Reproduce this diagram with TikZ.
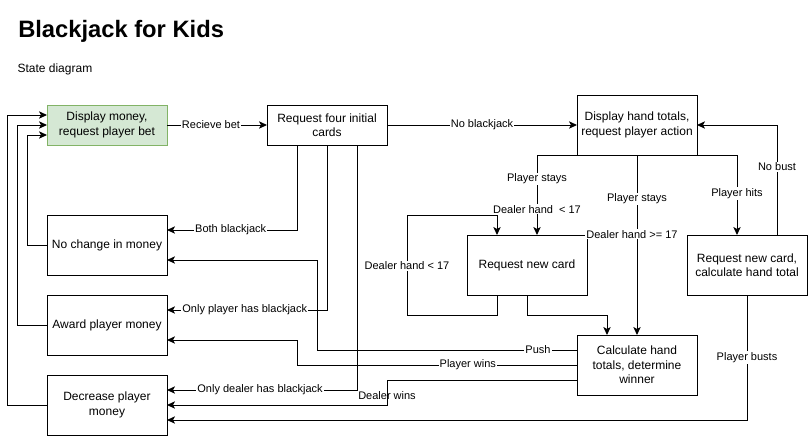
\documentclass[tikz,border=0pt]{standalone}
\usepackage{fontspec}
\setmainfont{Liberation Sans}
\usetikzlibrary{arrows.meta}
\usetikzlibrary{positioning}
\definecolor{betfill}{HTML}{D5E8D4}
\definecolor{betdraw}{HTML}{82B366}
\tikzstyle{block} = [rectangle, draw, line width=0.75pt, outer sep=0pt, inner sep=2pt, minimum width=90pt, minimum height=30pt, align=center, font=\fontsize{9}{10.8}\selectfont]
\tikzstyle{tall} = [block, minimum height=45pt]
\tikzstyle{lbl} = [fill=white, inner sep=0.75pt, font=\fontsize{8.25}{9.5}\selectfont]
\tikzstyle{line} = [draw, line width=0.75pt, -{Stealth[length=6pt,width=5.5pt,inset=1.5pt]}]

\begin{document}
\begin{tikzpicture}[x=0.75pt, y=-0.75pt]
   \useasboundingbox (0,0) rectangle (808,436);
   % Title
   \node [anchor=base west, inner sep=0pt, font=\bfseries\fontsize{17.8}{21}\selectfont] (title) at (18,37.7) {Blackjack for Kids};
   \node [anchor=base west, inner sep=0pt, font=\fontsize{9}{11}\selectfont] (subtitle) at (17.3,72.7) {State diagram};

   % Place nodes
   \node [block, fill=betfill, draw=betdraw] (money) at (107,125) {Display money,\\request player bet};
   \node [block, right = 75pt of money] (four) {Request four initial\\cards};
   \node [tall, right = 142.5pt of four] (hand) {Display hand totals,\\request player action};
   \node [tall, below = 52.5pt of money] (nochange) {No change in money};
   \node [tall, below = 15pt of nochange] (award) {Award player money};
   \node [tall, below = 15pt of award] (decrease) {Decrease player\\money};
   \node [tall, below left = 60pt and -7.5pt of hand] (newcard) {Request new card};
   \node [tall, below right = 60pt and -7.5pt of hand] (hitcard) {Request new card,\\calculate hand total};
   \node [tall, below = 135pt of hand] (calc) {Calculate hand\\totals, determine\\winner};

   % Opening of the round
   \draw[line] (money) -- node [lbl, pos=0.44] {Recieve bet} (four);
   \draw[line] (four) -- node [lbl] {No blackjack} (hand);
   \draw[line] (four.south -| 297,0) |- node [lbl, pos=0.755] {Both blackjack} (nochange.east |- 0,230);
   \draw[line] (four.south) |- node [lbl, pos=0.757] {Only player has blackjack} (award.east |- 0,310);
   \draw[line] (four.south -| 357,0) |- node [lbl, pos=0.755] {Only dealer has blackjack} (decrease.east |- 0,390);

   % Back to the bet
   \draw[line] (nochange.west) -- ++(-20,0) |- (money.west |- 0,135);
   \draw[line] (award.west) -- ++(-30,0) |- (money.west);
   \draw[line] (decrease.west) -- ++(-40,0) |- (money.west |- 0,115);

   % Player action
   \draw[line] (hand.south) -| node [lbl, pos=0.65] {Player stays} node [lbl, pos=0.84] {Dealer hand~ < 17} (newcard.north -| 537,0);
   \draw[line] (hand.south) -- node [lbl, pos=0.244] {Player stays} node [lbl, pos=0.44, xshift=-3.75pt] {Dealer hand >= 17} (calc.north);
   \draw[line] (hand.south) -| node [lbl, pos=0.74] {Player hits} (hitcard.north -| 737,0);
   \draw[line] (hitcard.north -| 777,0) |- node [lbl, pos=0.31] {No bust} (hand.east);
   \draw[line] (hitcard.south) |- node [lbl, pos=0.25] {Player busts} (decrease.east |- 0,420);

   % Dealer draws
   \draw[line] (newcard.south -| 497,0) -- ++(0,20) -| node [lbl, pos=0.745] {Dealer hand < 17} (407,215) -| (newcard.north -| 497,0);
   \draw[line] (newcard.south) -- ++(0,20) -| (calc.north -| 607,0);

   % Result of the round
   \draw[line] (calc.west |- 0,350) -- node [lbl, pos=0.15] {Push} (317,350) |- (nochange.east |- 0,260);
   \draw[line] (calc.west |- 0,365) -- node [lbl, pos=0.39] {Player wins} (297,365) |- (award.east |- 0,340);
   \draw[line] (calc.west |- 0,380) -- (387,380) -- node [lbl, fill=none, pos=0.62] {Dealer wins} (387,405) -- (decrease.east |- 0,405);
\end{tikzpicture}
\end{document}
